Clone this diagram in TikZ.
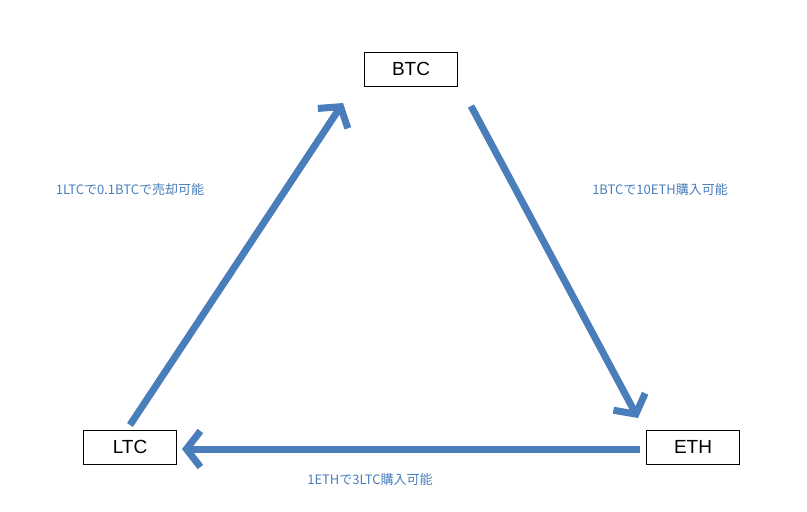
\documentclass[tikz,border=0pt]{standalone}
\usepackage{fontspec}
\setmainfont{Liberation Sans}
\newfontfamily\cjk{Noto Sans CJK JP}
\usetikzlibrary{arrows.meta}
\definecolor{arr}{HTML}{4A7EBB}
\begin{document}
\begin{tikzpicture}[x=1pt,y=-1pt,
  box/.style={draw=black,fill=white,line width=0.8pt,minimum width=93pt,minimum height=34pt,inner sep=0pt,font=\fontsize{19}{22}\selectfont},
  conn/.style={draw=arr,line width=7pt,-{Straight Barb[length=14pt,width=36pt,line width=7pt]}},
  lbl/.style={text=arr,font=\cjk\fontsize{13}{15}\selectfont}]
\useasboundingbox (0,0) rectangle (807,512);
\node[box] (btc) at (411,69) {BTC};
\node[box] (ltc) at (130,447) {LTC};
\node[box] (eth) at (693,447) {ETH};
\coordinate (a1) at (130,425); \coordinate (a2) at (343,103);
\coordinate (b1) at (471,106); \coordinate (b2) at (638,418);
\coordinate (c1) at (640,449); \coordinate (c2) at (182,449);
\draw[conn] (a1) -- (a2);
\draw[conn] (b1) -- (b2);
\draw[conn] (c1) -- (c2);
\node[lbl] (l1) at (130,190) {1LTCで0.1BTCで売却可能};
\node[lbl] (l2) at (660,190) {1BTCで10ETH購入可能};
\node[lbl] (l3) at (370,480) {1ETHで3LTC購入可能};
\end{tikzpicture}
\end{document}
